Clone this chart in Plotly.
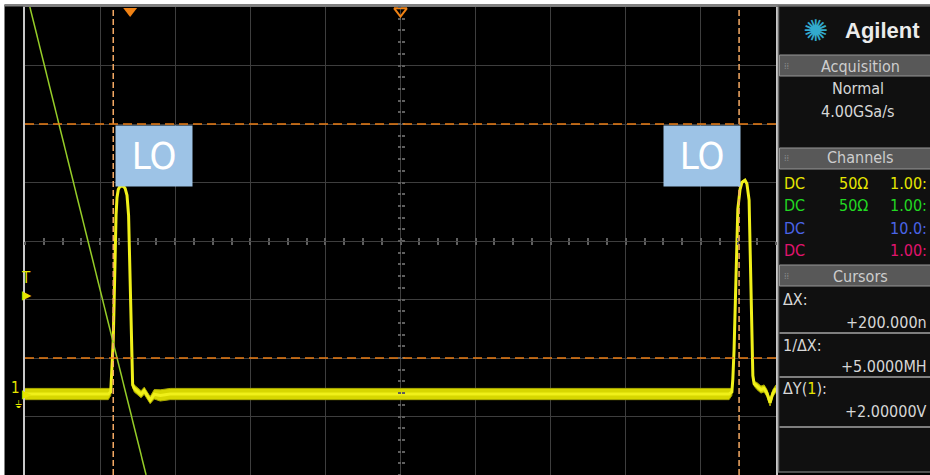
import plotly.graph_objects as go

# ---------------- data ----------------
# Channel 1 (yellow) waveform: time in ns, level in V (0.5 V/div, ~24 ns/div)
ch1_time = [-120.0, -93.4, -92.6, -92.2, -91.8, -91.5, -91.2, -90.9, -90.6, -90.2,
            -89.6, -88.6, -88.0, -87.4, -86.9, -86.6, -86.2, -85.9, -85.6, -85.1,
            -84.2, -82.9, -81.9, -80.0, -78.7, -76.8, -73.6, 105.0,
            105.9, 106.2, 106.6, 107.0, 107.4, 107.8, 108.5, 109.1, 110.1, 110.7,
            111.4, 111.7, 112.0, 112.3, 112.6, 113.0, 113.9, 115.2, 116.2, 117.1,
            118.1, 119.0, 120.0]
ch1_volts = [-1.308, -1.308, -1.29, -1.10, -0.85, -0.50, -0.08, 0.22, 0.37, 0.44,
             0.47, 0.47, 0.45, 0.39, 0.22, -0.16, -0.68, -1.10, -1.23, -1.26,
             -1.28, -1.31, -1.28, -1.36, -1.31, -1.32, -1.308, -1.308,
             -1.29, -1.18, -0.93, -0.50, -0.08, 0.27, 0.44, 0.50, 0.52, 0.49,
             0.35, 0.01, -0.42, -0.85, -1.15, -1.22, -1.24, -1.27, -1.26, -1.30,
             -1.38, -1.30, -1.26]
# persistence spread (half width of the bright band) in V
ch1_spread = [0.048, 0.048, 0.03, 0.01, 0.01, 0.01, 0.01, 0.01, 0.01, 0.01,
              0.01, 0.01, 0.01, 0.01, 0.01, 0.01, 0.01, 0.01, 0.02, 0.03,
              0.03, 0.03, 0.03, 0.03, 0.04, 0.048, 0.048, 0.048,
              0.03, 0.01, 0.01, 0.01, 0.01, 0.01, 0.01, 0.01, 0.01, 0.01,
              0.01, 0.01, 0.01, 0.01, 0.01, 0.02, 0.03, 0.03, 0.03, 0.03,
              0.03, 0.03, 0.03]

# Channel 2 (green) trace
ch2_time = [-119.0, -81.3]
ch2_volts = [2.06, -2.0]

# cursors
cursor_x = [-91.8, 108.2]     # ns  (dX = 200 ns)
cursor_y = [1.0, -1.0]        # V   (dY = 2 V)

trigger_level = -0.46
ch1_ground = -1.308
trigger_time = -86.4
time_reference = 0.0

lo_labels = ["LO", "LO"]
lo_time = [-78.7, 96.2]
lo_volts = [0.73, 0.73]

acq_lines = ["Normal", "4.00GSa/s"]
chan_coupling = ["DC", "DC", "DC", "DC"]
chan_imped = ["50Ω", "50Ω", "", ""]
chan_probe = ["1.00:", "1.00:", "10.0:", "1.00:"]
chan_colors = ["#e6e600", "#22d822", "#4a64e6", "#e0146e"]
cursor_names = ["ΔX:", "1/ΔX:", "ΔY(<span style='color:#e6e600'>1</span>):"]
cursor_values = ["+200.000n", "+5.0000MH", "+2.00000V"]

# ---------------- geometry helpers ----------------
W, H = 930, 475
L, R, T, B = 25, 154, 7, 0
PW, PH = W - L - R, H - T - B


def fx(px):
    return (px - L) / PW


def fy(py):
    return (H - B - py) / PH


XR = [-120, 120]
YR = [-2, 2]
FONT = "DejaVu Sans Condensed, Liberation Sans Narrow, Roboto, sans-serif"
NARROW = "Liberation Sans Narrow, DejaVu Sans Condensed, sans-serif"

fig = go.Figure()

# persistence band of channel 1
band_x = ch1_time + ch1_time[::-1]
band_y = [v + s for v, s in zip(ch1_volts, ch1_spread)] + \
         [v - s for v, s in zip(ch1_volts[::-1], ch1_spread[::-1])]
fig.add_trace(go.Scatter(x=band_x, y=band_y, fill="toself", mode="lines",
                         line=dict(width=1, color="rgb(170,170,0)"), fillcolor="rgb(215,215,0)",
                         hoverinfo="skip", showlegend=False))
fig.add_trace(go.Scatter(x=ch1_time, y=ch1_volts, mode="lines",
                         line=dict(color="rgb(240,240,25)", width=3),
                         showlegend=False))
fig.add_trace(go.Scatter(x=ch2_time, y=ch2_volts, mode="lines",
                         line=dict(color="rgb(150,205,40)", width=1.5),
                         showlegend=False))

# top markers: trigger position (filled) and time reference (open)
fig.add_trace(go.Scatter(x=[trigger_time], y=[1.965], mode="markers",
                         marker=dict(symbol="triangle-down", size=12,
                                     color="rgb(240,130,20)"),
                         showlegend=False))
fig.add_trace(go.Scatter(x=[time_reference], y=[1.965], mode="markers",
                         marker=dict(symbol="triangle-down-open", size=11,
                                     color="rgb(240,130,20)",
                                     line=dict(width=2, color="rgb(240,130,20)")),
                         showlegend=False))

# dummy traces so center-tick axes are drawn
fig.add_trace(go.Scatter(x=[0], y=[0], xaxis="x2", yaxis="y2", mode="markers",
                         marker=dict(opacity=0), hoverinfo="skip", showlegend=False))
fig.add_trace(go.Scatter(x=[0], y=[0], xaxis="x3", yaxis="y3", mode="markers",
                         marker=dict(opacity=0), hoverinfo="skip", showlegend=False))

shapes = []
# cursors
for cx in cursor_x:
    shapes.append(dict(type="line", xref="x", yref="paper", x0=cx, x1=cx, y0=0, y1=1,
                       line=dict(color="rgb(245,170,100)", width=1.5, dash="6px,3px")))
for cy in cursor_y:
    shapes.append(dict(type="line", xref="paper", yref="y", x0=0, x1=1, y0=cy, y1=cy,
                       line=dict(color="rgb(235,125,20)", width=1.5, dash="9px,5px")))

# white page strips (top/left)
shapes.append(dict(type="rect", xref="paper", yref="paper", x0=fx(0), x1=fx(W),
                   y0=fy(4.5), y1=fy(0), fillcolor="white", line=dict(width=0), layer="above"))
shapes.append(dict(type="rect", xref="paper", yref="paper", x0=fx(0), x1=fx(4.5),
                   y0=fy(H), y1=fy(0), fillcolor="white", line=dict(width=0), layer="above"))
shapes.append(dict(type="line", xref="paper", yref="paper", x0=fx(4.5), x1=fx(W),
                   y0=fy(5.5), y1=fy(5.5), line=dict(color="rgb(130,130,130)", width=2)))

# right panel
shapes.append(dict(type="rect", xref="paper", yref="paper", x0=fx(778.5), x1=fx(940),
                   y0=fy(472), y1=fy(6), fillcolor="rgb(16,16,16)",
                   line=dict(color="rgb(105,105,105)", width=1.5)))
for (y0, y1) in [(55, 76), (148, 169), (265, 286)]:
    shapes.append(dict(type="rect", xref="paper", yref="paper", x0=fx(779.5), x1=fx(931),
                       y0=fy(y1), y1=fy(y0), fillcolor="rgb(88,88,88)",
                       line=dict(color="rgb(150,150,150)", width=1)))
for ys in [333, 377, 427]:
    shapes.append(dict(type="line", xref="paper", yref="paper", x0=fx(779.5), x1=fx(931),
                       y0=fy(ys), y1=fy(ys), line=dict(color="rgb(165,165,165)", width=1.5)))

annotations = []
# LO labels
for txt, t, v in zip(lo_labels, lo_time, lo_volts):
    annotations.append(dict(x=t, y=v, xref="x", yref="y", text=txt, showarrow=False,
                            bgcolor="rgb(157,195,230)", width=74, height=58,
                            font=dict(family=NARROW, size=38, color="white", weight=300)))

# left side markers
annotations.append(dict(x=fx(19), y=trigger_level, xref="paper", yref="y", text="T",
                        showarrow=False, yshift=17,
                        font=dict(family=FONT, size=15, color="#e6e600")))
annotations.append(dict(x=fx(20), y=trigger_level, xref="paper", yref="y", text="▶",
                        showarrow=False, font=dict(family="DejaVu Sans", size=12, color="#e6e600")))
annotations.append(dict(x=fx(9), y=ch1_ground, xref="paper", yref="y", text="1",
                        showarrow=False, yshift=6,
                        font=dict(family=FONT, size=15, color="#e6e600")))
annotations.append(dict(x=fx(20), y=ch1_ground, xref="paper", yref="y", text="▶",
                        showarrow=False, font=dict(family="DejaVu Sans", size=12, color="#e6e600")))
annotations.append(dict(x=fx(13), y=ch1_ground, xref="paper", yref="y", text="⏚",
                        showarrow=False, yshift=-10,
                        font=dict(family="DejaVu Sans", size=10, color="#e6e600")))


def ptext(px, py, text, size=16, color="rgb(215,215,215)", anchor="center", bold=False, family=FONT):
    annotations.append(dict(x=fx(px), y=fy(py), xref="paper", yref="paper", text=text,
                            showarrow=False, xanchor=anchor, yanchor="middle",
                            font=dict(family=family, size=size, color=color,
                                      weight="bold" if bold else "normal")))


# Agilent header
ptext(815, 30, "✺", size=30, color="rgb(50,170,205)", family="DejaVu Sans")
ptext(882, 30, "Agilent", size=22, color="rgb(235,235,235)", bold=True,
      family="Liberation Sans, Arial, sans-serif")
# section headers
for name, yc in [("Acquisition", 66), ("Channels", 158), ("Cursors", 276)]:
    ptext(860, yc, name, size=16, color="rgb(205,205,205)")
    ptext(786, yc, "⁞⁞", size=9, color="rgb(140,140,140)")
# acquisition lines
for txt, yc in zip(acq_lines, [88, 112]):
    ptext(858, yc, txt, size=16)
# channel rows
for i, yc in enumerate([183, 205, 228, 251]):
    c = chan_colors[i]
    ptext(782, yc, chan_coupling[i], size=16, color=c, anchor="left")
    if chan_imped[i]:
        ptext(837, yc, chan_imped[i], size=16, color=c, anchor="left")
    ptext(929, yc, chan_probe[i], size=16, color=c, anchor="right")
# cursor readouts
for name, yc in zip(cursor_names, [299, 345, 388]):
    ptext(781, yc, name, size=16, anchor="left")
for val, yc in zip(cursor_values, [322, 367, 411]):
    ptext(929, yc, val, size=16, anchor="right")

grid_c = "rgb(62,62,62)"
tick_c = "rgb(95,95,95)"
fig.update_layout(
    width=W, height=H,
    margin=dict(l=L, r=R, t=T, b=B, pad=0),
    paper_bgcolor="black", plot_bgcolor="black",
    showlegend=False,
    xaxis=dict(range=XR, dtick=24, tick0=0, showgrid=True, gridcolor=grid_c, gridwidth=1,
               zeroline=True, zerolinecolor=grid_c, zerolinewidth=1,
               showticklabels=False, ticks="", showline=True, mirror=True,
               linecolor="rgb(120,120,120)", linewidth=1, fixedrange=True),
    yaxis=dict(range=YR, dtick=0.5, tick0=0, showgrid=True, gridcolor=grid_c, gridwidth=1,
               zeroline=True, zerolinecolor=grid_c, zerolinewidth=1,
               showticklabels=False, ticks="", showline=True, mirror=True,
               linecolor="rgb(200,200,200)", linewidth=1.5, fixedrange=True),
    xaxis2=dict(range=XR, overlaying="x", anchor="free", position=0.5, dtick=6, tick0=0,
                ticks="outside", ticklen=3, tickcolor=tick_c, tickwidth=1.5,
                showticklabels=False, showgrid=False, zeroline=False, showline=False),
    yaxis2=dict(range=YR, overlaying="y", anchor="free", position=0.5, dtick=0.1, tick0=0,
                ticks="outside", ticklen=3, tickcolor=tick_c, tickwidth=1.5,
                showticklabels=False, showgrid=False, zeroline=False, showline=False),
    xaxis3=dict(range=XR, overlaying="x", anchor="free", position=0.5, dtick=6, tick0=0,
                ticks="inside", ticklen=3, tickcolor=tick_c, tickwidth=1.5,
                showticklabels=False, showgrid=False, zeroline=False, showline=False),
    yaxis3=dict(range=YR, overlaying="y", anchor="free", position=0.5, dtick=0.1, tick0=0,
                ticks="inside", ticklen=3, tickcolor=tick_c, tickwidth=1.5,
                showticklabels=False, showgrid=False, zeroline=False, showline=False),
    shapes=shapes,
    annotations=annotations,
)

fig.write_html("out.html", config={"displayModeBar": False},
               post_script="document.body.style.margin='0';document.body.style.padding='0';")
